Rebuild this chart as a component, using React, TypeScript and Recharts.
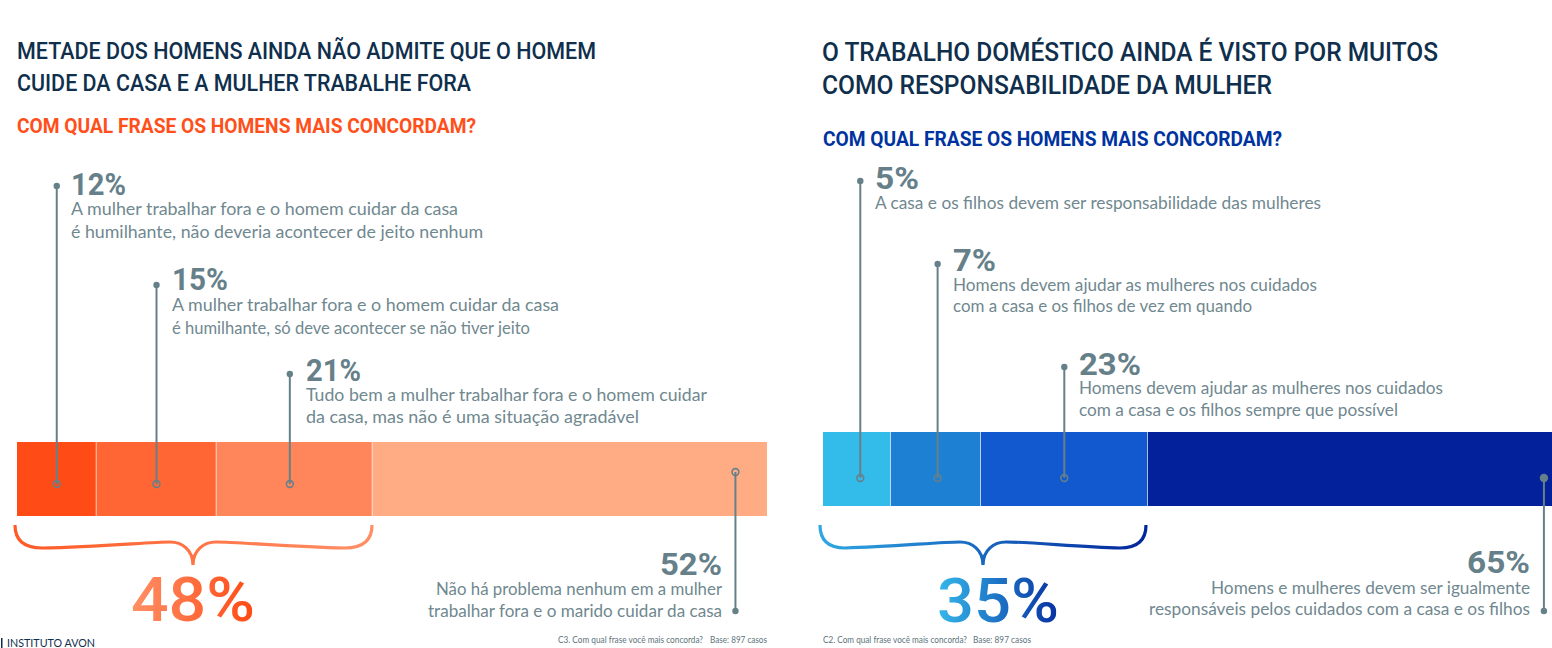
import { Bar, BarChart, XAxis, YAxis } from "recharts";

// widths of the segments as drawn in the picture (they don't follow the printed percentages)
const leftShares = [10.6, 16, 20.8, 52.6];
const rightShares = [9.3, 12.35, 22.9, 55.45];
const leftColors = ["#ff4c17", "#ff6633", "#ff855a", "#ffac84"];
const rightColors = ["#33bbea", "#1e80d2", "#1259d0", "#02219a"];

const leftPercents = ["12%", "15%", "21%", "52%"];
const rightPercents = ["5%", "7%", "23%", "65%"];
const leftTotal = "48%";
const rightTotal = "35%";

const leftTitle = ["METADE DOS HOMENS AINDA NÃO ADMITE QUE O HOMEM", "CUIDE DA CASA E A MULHER TRABALHE FORA"];
const rightTitle = ["O TRABALHO DOMÉSTICO AINDA É VISTO POR MUITOS", "COMO RESPONSABILIDADE DA MULHER"];
const question = "COM QUAL FRASE OS HOMENS MAIS CONCORDAM?";

const leftNotes = [
  ["A mulher trabalhar fora e o homem cuidar da casa", "é humilhante, não deveria acontecer de jeito nenhum"],
  ["A mulher trabalhar fora e o homem cuidar da casa", "é humilhante, só deve acontecer se não tiver jeito"],
  ["Tudo bem a mulher trabalhar fora e o homem cuidar", "da casa, mas não é uma situação agradável"],
  ["Não há problema nenhum em a mulher", "trabalhar fora e o marido cuidar da casa"],
];
const rightNotes = [
  ["A casa e os filhos devem ser responsabilidade das mulheres"],
  ["Homens devem ajudar as mulheres nos cuidados", "com a casa e os filhos de vez em quando"],
  ["Homens devem ajudar as mulheres nos cuidados", "com a casa e os filhos sempre que possível"],
  ["Homens e mulheres devem ser igualmente", "responsáveis pelos cuidados com a casa e os filhos"],
];
const footQuestionLeft = "C3. Com qual frase você mais concorda?";
const footQuestionRight = "C2. Com qual frase você mais concorda?";
const footBase = "Base: 897 casos";

const GREY = "#66808a";
const NOTE = "#70888f";
const NAVY = "#0f2f4d";
const HEAD = "Roboto, sans-serif";
const BODY = "Lato, sans-serif";

type Pin = { at: number; top: number; bottom: number };

// where the connector sits in each segment (fraction of its width) and how far it runs
const leftPins: Pin[] = [
  { at: 0.5, top: 186, bottom: 484 },
  { at: 0.5, top: 285, bottom: 484 },
  { at: 0.47, top: 374, bottom: 484 },
  { at: 0.92, top: 472, bottom: 611 },
];
const rightPins: Pin[] = [
  { at: 0.55, top: 181, bottom: 478 },
  { at: 0.52, top: 264, bottom: 478 },
  { at: 0.5, top: 367, bottom: 478 },
  { at: 0.98, top: 478, bottom: 611 },
];

function segment(color: string, pin: Pin, last: boolean) {
  return (props: any) => {
    const { x, y, width, height } = props;
    const cx = x + width * pin.at;
    return (
      <g>
        <rect x={x} y={y} width={width} height={height} fill={color} />
        {!last && <rect x={x + width - 0.75} y={y} width={1.5} height={height} fill="#fff" fillOpacity={0.85} />}
        <line x1={cx} x2={cx} y1={pin.top} y2={pin.bottom} stroke={GREY} strokeWidth={2} />
        {!last ? (
          <>
            <circle cx={cx} cy={pin.top} r={3.2} fill={GREY} />
            <circle cx={cx} cy={pin.bottom} r={3.4} fill="none" stroke={GREY} strokeWidth={1.6} />
          </>
        ) : (
          <>
            <circle cx={cx} cy={pin.top} r={3.4} fill={color === "#02219a" ? GREY : "none"} stroke={GREY} strokeWidth={1.6} />
            <circle cx={cx} cy={pin.bottom} r={3.2} fill={GREY} />
          </>
        )}
      </g>
    );
  };
}

function StackBar({ shares, colors, pins, margin, left }: { shares: number[]; colors: string[]; pins: Pin[]; margin: any; left: number }) {
  const row: Record<string, number | string> = { name: "total" };
  shares.forEach((s, i) => (row["s" + i] = s));
  return (
    <div style={{ position: "absolute", left, top: 0 }}>
      <BarChart width={776} height={648} data={[row]} layout="vertical" margin={margin} barCategoryGap={0} style={{ overflow: "visible" }}>
        <XAxis type="number" domain={[0, 100]} hide />
        <YAxis type="category" dataKey="name" hide />
        {shares.map((_, i) => (
          <Bar key={i} dataKey={"s" + i} stackId="a" isAnimationActive={false} shape={segment(colors[i], pins[i], i === shares.length - 1)} />
        ))}
      </BarChart>
    </div>
  );
}

// x, baseline, size, width of one run of text
function T({ x, y, s, w, c = NOTE, f = BODY, b = 400, children }: any) {
  return (
    <text x={x} y={y} fontSize={s} fontFamily={f} fontWeight={b} fill={c} textLength={w} lengthAdjust="spacingAndGlyphs">
      {children}
    </text>
  );
}

export default function App() {
  return (
    <div style={{ position: "absolute", left: 0, top: 0, width: 1552, height: 648, background: "#fff", overflow: "hidden" }}>
      <StackBar shares={leftShares} colors={leftColors} pins={leftPins} left={0} margin={{ top: 442, bottom: 132, left: 17, right: 9 }} />
      <StackBar shares={rightShares} colors={rightColors} pins={rightPins} left={776} margin={{ top: 432, bottom: 142, left: 47, right: 0 }} />
      <svg width={1552} height={648} style={{ position: "absolute", left: 0, top: 0 }}>
        <defs>
          <linearGradient id="braceL" x1="0" x2="1" y1="0" y2="0">
            <stop offset="0" stopColor="#ff5a26" />
            <stop offset="1" stopColor="#ff8f66" />
          </linearGradient>
          <linearGradient id="braceR" x1="0" x2="1" y1="0" y2="0">
            <stop offset="0" stopColor="#2fa8e2" />
            <stop offset="1" stopColor="#02259c" />
          </linearGradient>
          <linearGradient id="totalL" x1="0" x2="1" y1="0" y2="0">
            <stop offset="0" stopColor="#ff9066" />
            <stop offset="1" stopColor="#ff4a14" />
          </linearGradient>
          <linearGradient id="totalR" x1="0" x2="1" y1="0" y2="0">
            <stop offset="0" stopColor="#35b8ea" />
            <stop offset="1" stopColor="#0730a2" />
          </linearGradient>
        </defs>

        <T x={17} y={58.5} s={24} w={579} c={NAVY} f={HEAD} b={500}>{leftTitle[0]}</T>
        <T x={17} y={90.5} s={24} w={454} c={NAVY} f={HEAD} b={500}>{leftTitle[1]}</T>
        <T x={17} y={133} s={21} w={459} c="#ff4f1a" f={HEAD} b={700}>{question}</T>

        <T x={71} y={195} s={31} w={55} b={700} f={HEAD} c={GREY}>{leftPercents[0]}</T>
        <T x={71} y={215} s={18} w={387}>{leftNotes[0][0]}</T>
        <T x={71} y={238} s={18} w={412}>{leftNotes[0][1]}</T>
        <T x={172} y={290} s={31} w={56} b={700} f={HEAD} c={GREY}>{leftPercents[1]}</T>
        <T x={172} y={311} s={18} w={387}>{leftNotes[1][0]}</T>
        <T x={172} y={334} s={18} w={358}>{leftNotes[1][1]}</T>
        <T x={306} y={381} s={31} w={55} b={700} f={HEAD} c={GREY}>{leftPercents[2]}</T>
        <T x={306} y={401} s={18} w={401}>{leftNotes[2][0]}</T>
        <T x={306} y={423} s={18} w={333}>{leftNotes[2][1]}</T>
        <T x={660} y={575} s={31} w={62} b={700} f={HEAD} c={GREY}>{leftPercents[3]}</T>
        <T x={436} y={595} s={18} w={286}>{leftNotes[3][0]}</T>
        <T x={428} y={617} s={18} w={294}>{leftNotes[3][1]}</T>

        <path d="M15 525 Q15 548 42 548 C100 547 150 542 170 542 C182 542 193 550 193 565 C193 550 204 542 216 542 C240 542 290 547 345 548 Q372 548 372 525" fill="none" stroke="url(#braceL)" strokeWidth={3.2} />
        <T x={131} y={621} s={62} w={124} f={HEAD} b={500} c="url(#totalL)">{leftTotal}</T>
        <T x={558} y={643} s={9} w={145} c="#5d737c">{footQuestionLeft}</T>
        <T x={710} y={643} s={9} w={57} c="#5d737c">{footBase}</T>
        <rect x={1} y={638} width={1.5} height={10} fill={NAVY} />
        <T x={7} y={647} s={11.5} w={88} c={NAVY}>INSTITUTO AVON</T>

        <T x={822} y={61} s={26} w={616} c={NAVY} f={HEAD} b={500}>{rightTitle[0]}</T>
        <T x={822} y={94} s={26} w={450} c={NAVY} f={HEAD} b={500}>{rightTitle[1]}</T>
        <T x={823} y={146} s={21} w={459} c="#0033a0" f={HEAD} b={700}>{question}</T>

        <T x={875} y={189} s={31} w={44} b={700} f={HEAD} c={GREY}>{rightPercents[0]}</T>
        <T x={875} y={209} s={18} w={446}>{rightNotes[0][0]}</T>
        <T x={953} y={271} s={31} w={43} b={700} f={HEAD} c={GREY}>{rightPercents[1]}</T>
        <T x={953} y={291} s={18} w={364}>{rightNotes[1][0]}</T>
        <T x={953} y={312} s={18} w={299}>{rightNotes[1][1]}</T>
        <T x={1079} y={375} s={31} w={62} b={700} f={HEAD} c={GREY}>{rightPercents[2]}</T>
        <T x={1079} y={394} s={18} w={364}>{rightNotes[2][0]}</T>
        <T x={1079} y={416} s={18} w={319}>{rightNotes[2][1]}</T>
        <T x={1467} y={573} s={31} w={63} b={700} f={HEAD} c={GREY}>{rightPercents[3]}</T>
        <T x={1211} y={594} s={18} w={319}>{rightNotes[3][0]}</T>
        <T x={1149} y={615} s={18} w={381}>{rightNotes[3][1]}</T>

        <path d="M820 525 Q820 548 845 548 C890 547 940 542 960 542 C972 542 983 550 983 565 C983 550 994 542 1006 542 C1030 542 1080 547 1120 548 Q1146 548 1146 525" fill="none" stroke="url(#braceR)" strokeWidth={3.2} />
        <T x={937} y={622} s={62} w={122} f={HEAD} b={500} c="url(#totalR)">{rightTotal}</T>
        <T x={823} y={643} s={9} w={144} c="#5d737c">{footQuestionRight}</T>
        <T x={973} y={643} s={9} w={58} c="#5d737c">{footBase}</T>
      </svg>
    </div>
  );
}
